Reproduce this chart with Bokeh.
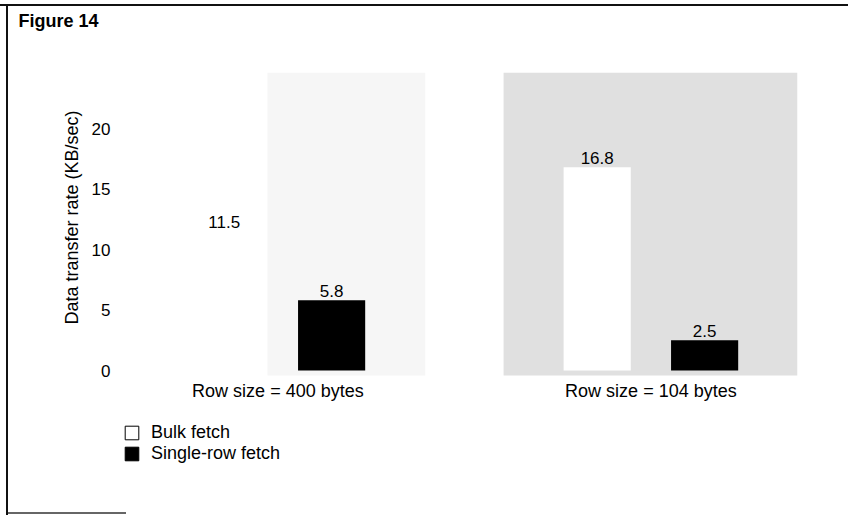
from bokeh.plotting import figure
from bokeh.models import (ColumnDataSource, Range1d, FixedTicker, LabelSet, BoxAnnotation,
                          Legend, LegendItem, Title)
from bokeh.core.properties import value
from bokeh.embed import file_html
from bokeh.resources import INLINE

# ---- data ----
groups = ["Row size = 400 bytes", "Row size = 104 bytes"]
series_names = ["Bulk fetch", "Single-row fetch"]
bulk_fetch = [11.5, 16.8]
single_row_fetch = [5.8, 2.5]
y_ticks = [0, 5, 10, 15, 20]
y_axis_title = "Data transfer rate (KB/sec)"
figure_title = "Figure 14"

FONT = "Liberation Sans"
gx = list(range(1, len(groups) + 1))
OFF = 0.144
W = 0.18
Y0, Y1 = -11.98, 24.63

src = ColumnDataSource(dict(
    xb=[g - OFF for g in gx],
    xs=[g + OFF for g in gx],
    bulk=bulk_fetch,
    single=single_row_fetch,
    bulk_txt=[f"{v:g}" for v in bulk_fetch],
    single_txt=[f"{v:g}" for v in single_row_fetch],
))
gsrc = ColumnDataSource(dict(x=gx, y=[0] * len(gx), label=groups))

p = figure(width=848, height=515, output_backend="svg", toolbar_location=None,
           title=None,
           x_range=Range1d(0.578, 2.393), y_range=Range1d(Y0, Y1),
           min_border_left=120, min_border_right=51, min_border_top=72,
           min_border_bottom=0)
p.outline_line_color = None
p.grid.visible = False
p.background_fill_color = None
p.border_fill_color = None
p.styles = {
    "background": ("linear-gradient(#111,#111) 0px 4px / 100% 2px no-repeat, "
                   "linear-gradient(#111,#111) 6px 4px / 2px 100% no-repeat, "
                   "linear-gradient(#666,#666) 6px 512px / 120px 2px no-repeat, white"),
}

# title, pushed to the top by a blank spacer title next to the frame
p.add_layout(Title(text=" ", text_font_size="1px", standoff=39), "above")
p.add_layout(Title(text=figure_title, align="left", offset=-102, text_font=FONT,
                   text_font_size="18px", text_font_style="bold", text_color="black",
                   standoff=0), "above")

# scanned-texture backgrounds
p.add_layout(BoxAnnotation(left=1.605, right=2.393, bottom=-0.41, top=Y1,
                           fill_color="#e0e0e0", fill_alpha=1, line_color=None,
                           level="underlay"))
p.add_layout(BoxAnnotation(left=0.972, right=1.395, bottom=-0.41, top=Y1,
                           fill_color="#f6f6f6", fill_alpha=1, line_color=None,
                           level="underlay"))

p.vbar(x="xb", top="bulk", width=W, source=src, fill_color="white", line_color=None)
p.vbar(x="xs", top="single", width=W, source=src, fill_color="black", line_color=None)

for col, txt in (("xb", "bulk"), ("xs", "single")):
    p.add_layout(LabelSet(x=col, y=txt, text=txt + "_txt", source=src, y_offset=3,
                          text_align="center", text_baseline="bottom",
                          text_font=value(FONT), text_font_size="17px",
                          text_color="black"))

# group (category) labels under each pair of bars
p.add_layout(LabelSet(x="x", y="y", text="label", source=gsrc, y_offset=-10,
                      text_align="center", text_baseline="top",
                      text_font=value(FONT), text_font_size="18px",
                      text_color="black"))

# axes
p.xaxis.visible = False
p.yaxis.ticker = FixedTicker(ticks=y_ticks)
p.yaxis.axis_line_color = None
p.yaxis.major_tick_line_color = None
p.yaxis.minor_tick_line_color = None
p.yaxis.major_tick_out = 0
p.yaxis.major_tick_in = 0
p.yaxis.minor_tick_out = 0
p.yaxis.major_label_text_font = FONT
p.yaxis.major_label_text_font_size = "17px"
p.yaxis.major_label_text_color = "black"
p.yaxis.major_label_standoff = 10

# y-axis title, placed next to the axis over the 0-20 span
p.add_layout(Title(text=y_axis_title, align="right", offset=38, vertical_align="bottom",
                   standoff=13, text_font=FONT, text_font_size="18px",
                   text_font_style="normal", text_color="black"), "left")

# legend (hidden renderers carry the legend swatches)
r1 = p.vbar(x="xb", top="bulk", width=W, source=src, fill_color="white",
            line_color="black", visible=False)
r2 = p.vbar(x="xs", top="single", width=W, source=src, fill_color="black",
            line_color="black", visible=False)
legend = Legend(items=[LegendItem(label=series_names[0], renderers=[r1]),
                       LegendItem(label=series_names[1], renderers=[r2])],
                location=(3, 51), border_line_color=None, background_fill_alpha=0,
                padding=0, margin=0, spacing=0, glyph_height=17, glyph_width=17,
                label_standoff=11, label_text_font=FONT, label_text_font_size="18px",
                label_text_color="black", label_height=13)
p.add_layout(legend, "center")

open("out.html", "w").write(file_html(p, INLINE))
